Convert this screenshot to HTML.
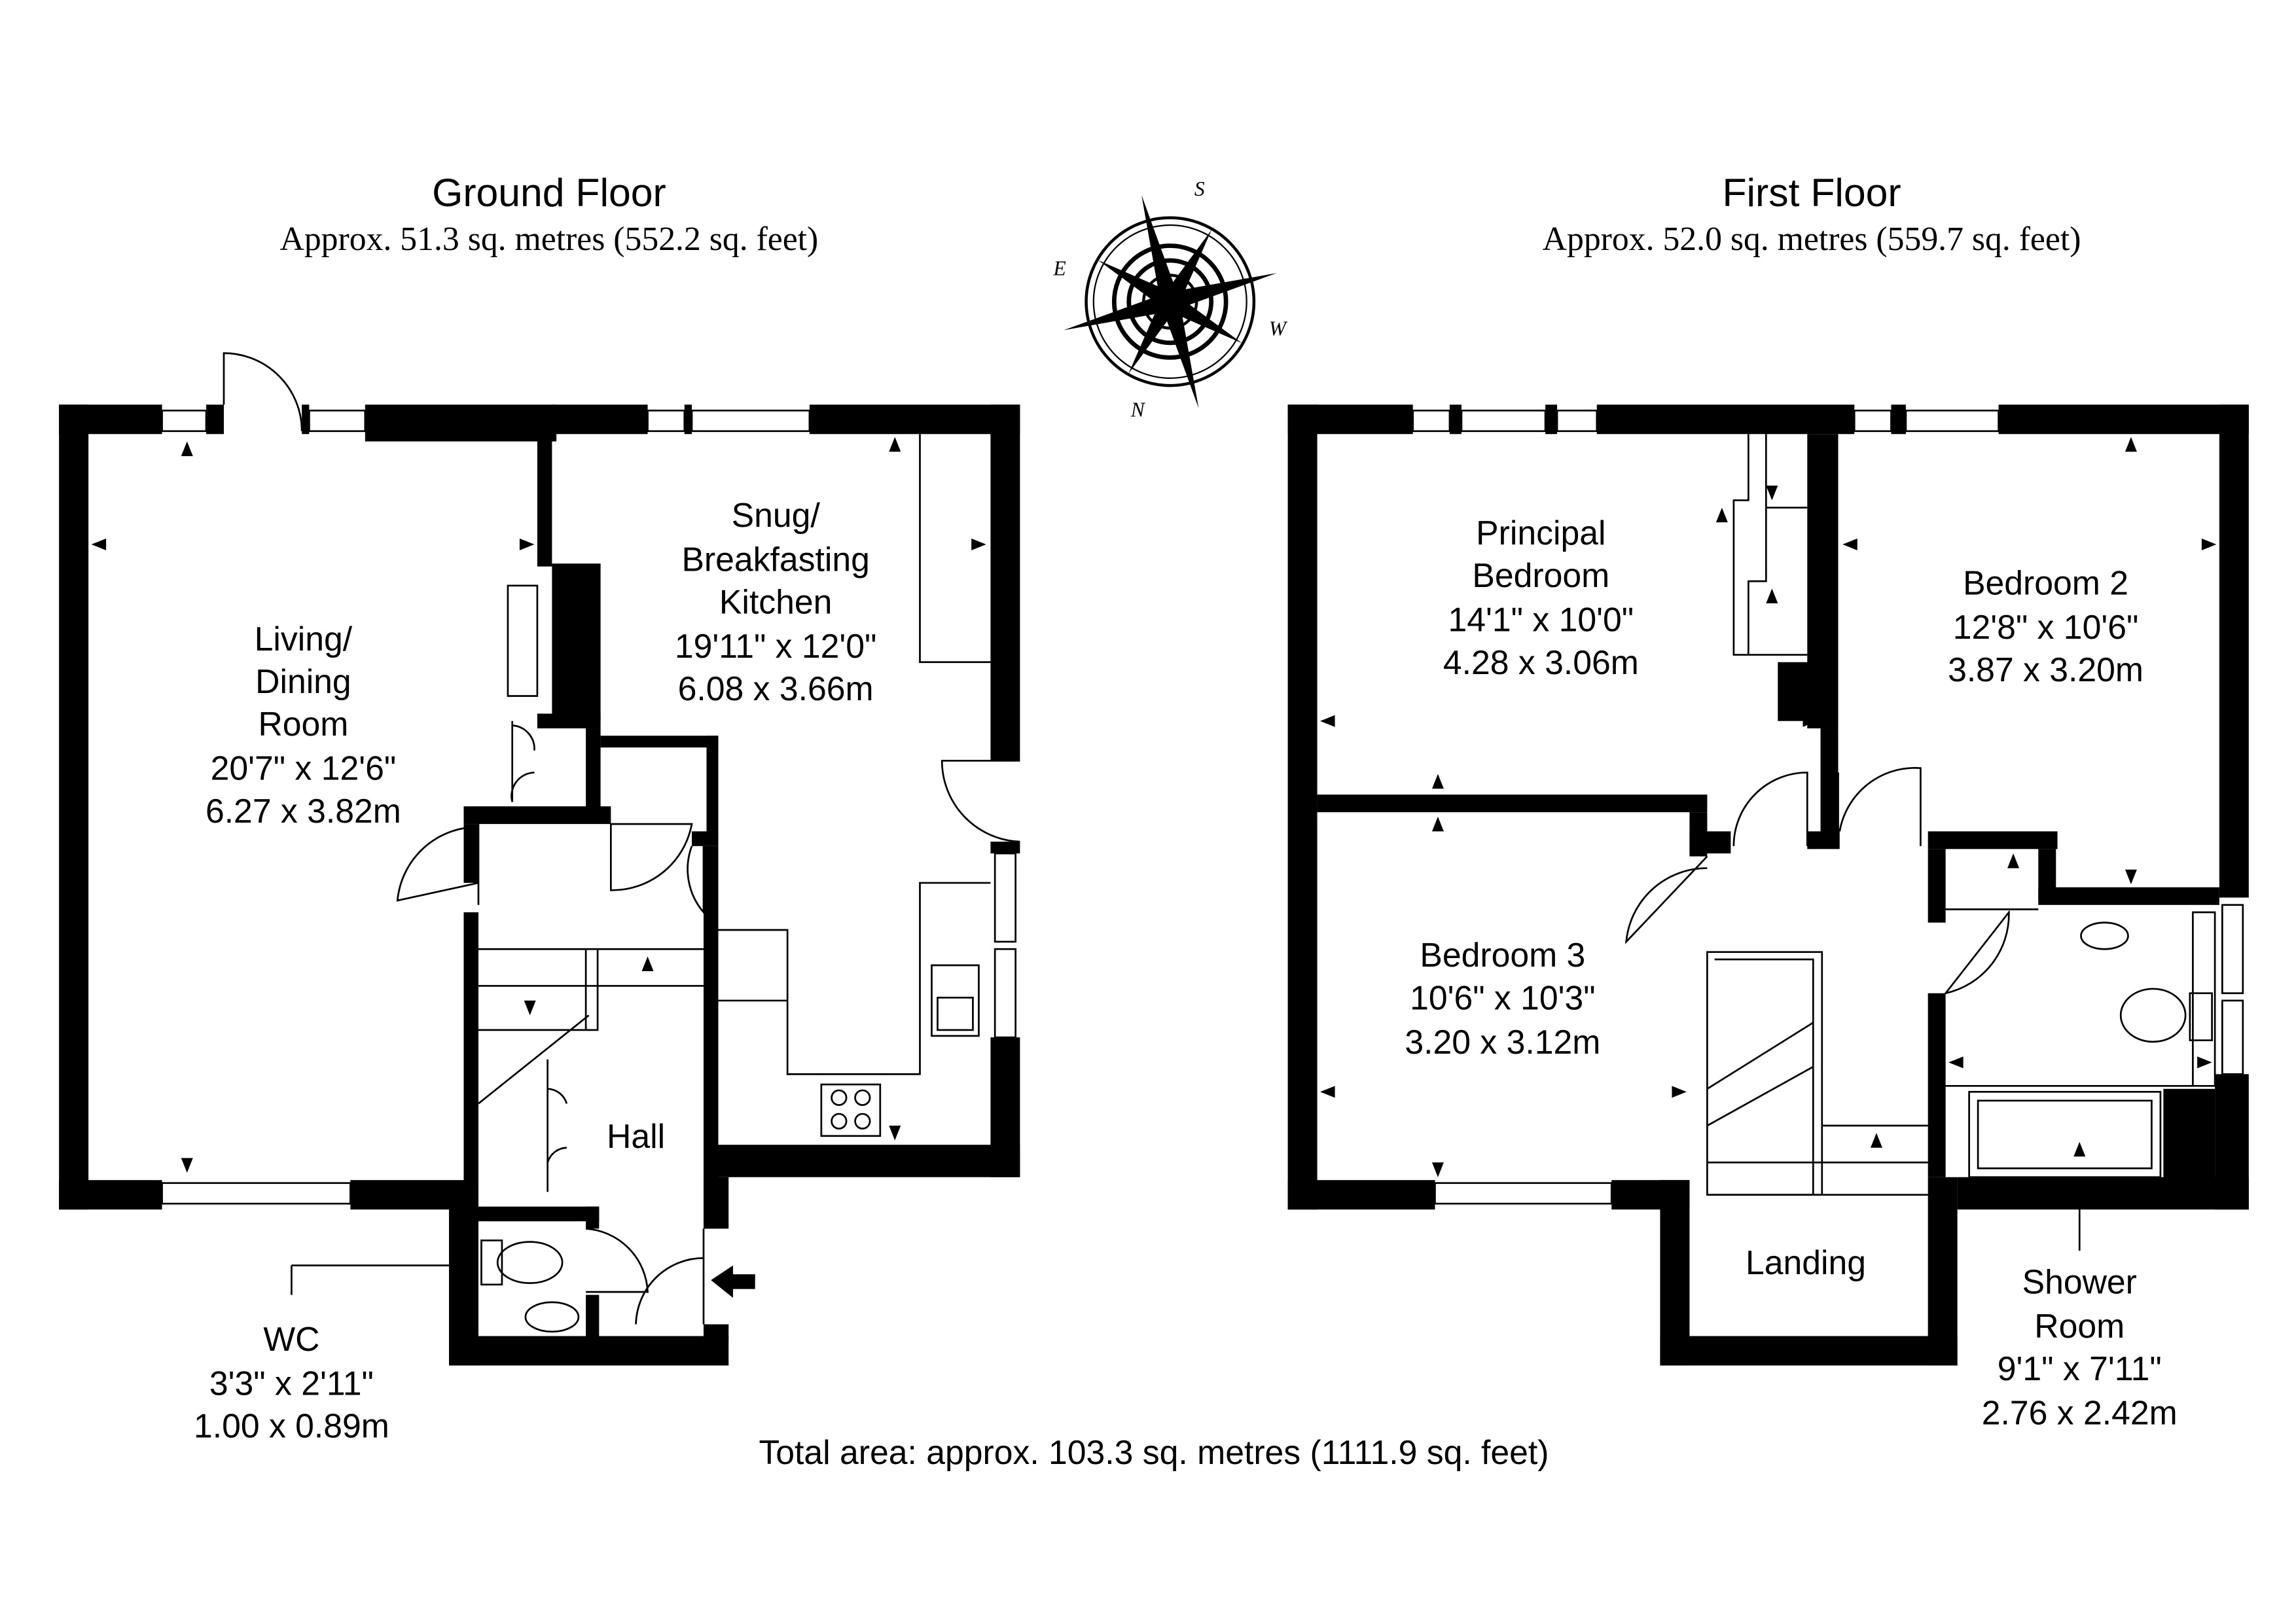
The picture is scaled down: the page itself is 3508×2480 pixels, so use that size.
<!DOCTYPE html>
<html><head><meta charset="utf-8"><style>
html,body{margin:0;padding:0;background:#fff;}
svg{display:block}
.t{font-family:"Liberation Sans",sans-serif;fill:#000;text-anchor:middle}
.s{font-family:"Liberation Serif",serif;fill:#000;text-anchor:middle}
</style></head><body>
<svg width="3508" height="2480" viewBox="0 0 1560 1103" xmlns="http://www.w3.org/2000/svg">
<rect width="1560" height="1103" fill="#fff"/>
<!-- titles -->
<text class="t" x="373" y="140" font-size="27">Ground Floor</text>
<text class="s" x="373" y="170" font-size="23">Approx. 51.3 sq. metres (552.2 sq. feet)</text>
<text class="t" x="1231" y="140" font-size="27">First Floor</text>
<text class="s" x="1231" y="170" font-size="23">Approx. 52.0 sq. metres (559.7 sq. feet)</text>
<text class="t" x="784" y="995" font-size="23">Total area: approx. 103.3 sq. metres (1111.9 sq. feet)</text>

<!-- compass -->
<g transform="translate(795,205)" fill="none" stroke="#000">
<circle r="57" stroke-width="2"/><circle r="52" stroke-width="1"/>
<circle r="38" stroke-width="3"/><circle r="28" stroke-width="3"/><circle r="18" stroke-width="2"/>
<g transform="rotate(-15)" fill="#000" stroke="none">
<polygon points="0,-75 6,-6 0,0 -6,-6"/><polygon points="0,75 6,6 0,0 -6,6"/>
<polygon points="-75,0 -6,-6 0,0 -6,6"/><polygon points="75,0 6,-6 0,0 6,6"/>
<polygon points="-40,-40 0,-8 0,0 -8,0"/><polygon points="40,40 0,8 0,0 8,0"/>
<polygon points="40,-40 8,0 0,0 0,-8"/><polygon points="-40,40 -8,0 0,0 0,8"/>
</g>
</g>
<text class="s" x="815" y="133" font-size="14" font-style="italic">S</text>
<text class="s" x="720" y="187" font-size="14" font-style="italic">E</text>
<text class="s" x="868" y="228" font-size="14" font-style="italic">W</text>
<text class="s" x="773" y="283" font-size="14" font-style="italic">N</text>

<g fill="#000">
<!-- GROUND FLOOR walls -->
<rect x="40" y="275" width="70" height="20"/>
<rect x="140" y="275" width="12" height="20"/>
<rect x="205" y="275" width="5" height="20"/>
<rect x="248" y="275" width="130" height="25"/>
<rect x="375" y="275" width="65" height="20"/>
<rect x="465" y="275" width="5" height="20"/>
<rect x="550" y="275" width="143" height="20"/>
<rect x="40" y="275" width="20" height="547"/>
<rect x="40" y="802" width="70" height="20"/>
<rect x="238" y="802" width="87" height="20"/>
<rect x="673" y="275" width="20" height="242"/>
<rect x="673" y="572" width="20" height="8"/>
<rect x="673" y="705" width="20" height="95"/>
<rect x="487" y="778" width="206" height="22"/>
<rect x="365" y="295" width="10" height="90"/>
<rect x="375" y="383" width="33" height="107"/>
<rect x="365" y="485" width="43" height="10"/>
<rect x="398" y="495" width="10" height="55"/>
<rect x="408" y="500" width="80" height="8"/>
<rect x="480" y="500" width="8" height="70"/>
<rect x="315" y="548" width="100" height="12"/>
<rect x="470" y="565" width="18" height="10"/>
<rect x="315" y="560" width="10" height="40"/>
<rect x="315" y="620" width="10" height="305"/>
<rect x="478" y="575" width="10" height="260"/>
<rect x="478" y="800" width="17" height="35"/>
<rect x="305" y="820" width="20" height="108"/>
<rect x="305" y="908" width="190" height="20"/>
<rect x="325" y="820" width="82" height="10"/>
<rect x="398" y="820" width="9" height="15"/>
<rect x="398" y="880" width="9" height="30"/>
<rect x="478" y="900" width="17" height="10"/>
<polygon points="483,870 498,860 498,866 513,866 513,876 498,876 498,882"/>
<!-- FIRST FLOOR walls -->
<rect x="875" y="275" width="85" height="20"/>
<rect x="985" y="275" width="8" height="20"/>
<rect x="1050" y="275" width="8" height="20"/>
<rect x="1085" y="275" width="175" height="20"/>
<rect x="1285" y="275" width="10" height="20"/>
<rect x="1358" y="275" width="170" height="20"/>
<rect x="875" y="275" width="20" height="547"/>
<rect x="1508" y="275" width="20" height="335"/>
<rect x="1505" y="730" width="23" height="92"/>
<rect x="875" y="802" width="100" height="20"/>
<rect x="1095" y="802" width="53" height="20"/>
<rect x="1128" y="802" width="20" height="126"/>
<rect x="1128" y="908" width="202" height="20"/>
<rect x="1310" y="800" width="20" height="128"/>
<rect x="1330" y="800" width="198" height="22"/>
<rect x="1470" y="740" width="35" height="62"/>
<rect x="895" y="540" width="265" height="12"/>
<rect x="1148" y="552" width="12" height="30"/>
<rect x="1148" y="565" width="28" height="15"/>
<rect x="1228" y="295" width="21" height="200"/>
<rect x="1208" y="450" width="28" height="40"/>
<rect x="1237" y="495" width="12" height="80"/>
<rect x="1228" y="565" width="22" height="12"/>
<rect x="1310" y="565" width="88" height="12"/>
<rect x="1385" y="577" width="12" height="35"/>
<rect x="1385" y="603" width="123" height="12"/>
<rect x="1310" y="577" width="12" height="50"/>
<rect x="1310" y="675" width="12" height="125"/>
</g>
<g fill="none" stroke="#000" stroke-width="1.2">
<!-- windows ground -->
<rect x="110" y="279" width="30" height="14"/><rect x="210" y="279" width="38" height="14"/>
<rect x="440" y="279" width="25" height="14"/><rect x="470" y="279" width="80" height="14"/>
<rect x="110" y="804" width="128" height="14"/>
<rect x="676" y="580" width="14" height="60"/><rect x="676" y="645" width="14" height="60"/>
<path d="M152,275 L152,240 A53,53 0 0 1 205,293"/>
<path d="M693,517 L640,517 A55,55 0 0 0 693,572"/>
<path d="M325,560 L325,615 M325,600 L270,612 A55,55 0 0 1 325,562"/>
<path d="M415,560 L470,560 A55,55 0 0 1 415,605 Z" fill="none"/>
<path d="M478,575 L478,620 A45,45 0 0 1 470,575"/>
<path d="M398,835 A45,45 0 0 1 440,878 L398,878"/>
<path d="M478,835 L478,900 M432,900 A46,46 0 0 1 478,855"/>
<!-- fireplace, cupboards -->
<rect x="345" y="398" width="20" height="75"/>
<path d="M348,490 L348,545 M348,493 A16,16 0 0 1 363,510 M348,545 A16,16 0 0 1 363,525"/>
<!-- stairs ground -->
<path d="M325,645 L478,645 M325,670 L478,670 M398,645 L398,700 L406,700 L406,645 M325,700 L398,700 M325,750 L400,690"/>
<path d="M372,720 L372,810 M372,740 A14,14 0 0 1 385,750 M372,790 A14,14 0 0 1 385,780"/>
<!-- kitchen units -->
<path d="M625,295 L625,450 L673,450"/>
<path d="M487,632 L535,632 L535,730 L625,730 L625,600 L673,600"/>
<path d="M487,680 L535,680"/>
<rect x="633" y="656" width="32" height="48"/><rect x="637" y="678" width="24" height="22"/>
<rect x="558" y="737" width="40" height="35"/>
<circle cx="570" cy="746" r="5"/><circle cx="586" cy="746" r="5"/><circle cx="570" cy="762" r="5"/><circle cx="586" cy="762" r="5"/>
<!-- WC -->
<ellipse cx="360" cy="858" rx="22" ry="14"/><rect x="327" y="843" width="14" height="30"/>
<ellipse cx="375" cy="895" rx="18" ry="10"/>
<line x1="305" y1="860" x2="198" y2="860"/><line x1="198" y1="860" x2="198" y2="880"/>
<!-- windows first -->
<rect x="960" y="279" width="25" height="14"/><rect x="993" y="279" width="57" height="14"/><rect x="1058" y="279" width="27" height="14"/>
<rect x="1260" y="279" width="25" height="14"/><rect x="1295" y="279" width="63" height="14"/>
<rect x="975" y="804" width="120" height="14"/>
<rect x="1312" y="830" width="14" height="75"/>
<rect x="1510" y="615" width="14" height="60"/><rect x="1510" y="680" width="14" height="50"/>
<!-- wardrobe -->
<path d="M1188,295 L1188,340 L1178,340 L1178,445 L1188,445 L1188,395 L1200,395 L1200,295 M1188,445 L1228,445 M1200,345 L1228,345"/>
<!-- doors first -->
<path d="M1228,575 L1228,525 A50,50 0 0 0 1178,575"/>
<path d="M1249,575 L1249,525 M1250,565 A52,52 0 0 1 1305,522 L1305,575"/>
<path d="M1160,582 L1105,640 A55,55 0 0 1 1160,590"/>
<path d="M1322,675 L1365,620 A55,55 0 0 1 1322,675 Z"/>
<!-- stairs first -->
<rect x="1160" y="647" width="78" height="165"/>
<path d="M1165,652 L1232,652 L1232,812 M1160,740 L1232,695 M1160,765 L1232,725 M1238,765 L1310,765 M1160,790 L1310,790 M1160,812 L1310,812"/>
<!-- shower room -->
<path d="M1322,618 L1385,618 M1322,738 L1505,738 L1505,620 L1490,620 L1490,738"/>
<ellipse cx="1430" cy="636" rx="16" ry="9"/><ellipse cx="1463" cy="690" rx="22" ry="18"/><rect x="1488" y="675" width="15" height="32"/>
<rect x="1338" y="742" width="130" height="58"/><rect x="1344" y="748" width="118" height="46"/>
<path d="M1413,800 L1413,850"/>
</g>
<!-- dimension arrows (small) -->
<g fill="#000">
<polygon points="127,300 123,310 131,310"/><polygon points="127,797 123,787 131,787"/>
<polygon points="62,370 72,366 72,374"/><polygon points="363,370 353,366 353,374"/>
<polygon points="608,297 604,307 612,307"/><polygon points="608,775 604,765 612,765"/>
<polygon points="670,370 660,366 660,374"/><polygon points="440,650 436,660 444,660"/>
<polygon points="360,690 356,680 364,680"/>
<polygon points="897,490 907,486 907,494"/><polygon points="1235,490 1225,486 1225,494"/>
<polygon points="977,526 973,536 981,536"/><polygon points="977,555 973,565 981,565"/>
<polygon points="977,800 973,790 981,790"/>
<polygon points="897,742 907,738 907,746"/><polygon points="1146,742 1136,738 1136,746"/>
<polygon points="1252,370 1262,366 1262,374"/><polygon points="1506,370 1496,366 1496,374"/>
<polygon points="1448,297 1444,307 1452,307"/><polygon points="1448,601 1444,591 1452,591"/>
<polygon points="1368,580 1364,590 1372,590"/><polygon points="1324,722 1334,718 1334,726"/>
<polygon points="1503,722 1493,718 1493,726"/><polygon points="1413,776 1409,786 1417,786"/>
<polygon points="1275,770 1271,780 1279,780"/>
<polygon points="1170,345 1166,355 1174,355"/><polygon points="1204,340 1200,330 1208,330"/><polygon points="1204,400 1200,410 1208,410"/>
</g>
<!-- labels -->
<g class="t" font-size="23">
<text x="206" y="442">Living/</text><text x="206" y="471">Dining</text><text x="206" y="500">Room</text>
<text x="206" y="530">20'7" x 12'6"</text><text x="206" y="559">6.27 x 3.82m</text>
<text x="527" y="358">Snug/</text><text x="527" y="388">Breakfasting</text><text x="527" y="417">Kitchen</text>
<text x="527" y="447">19'11" x 12'0"</text><text x="527" y="476">6.08 x 3.66m</text>
<text x="432" y="780">Hall</text>
<text x="198" y="918">WC</text><text x="198" y="948">3'3" x 2'11"</text><text x="198" y="977">1.00 x 0.89m</text>
<text x="1047" y="370">Principal</text><text x="1047" y="399">Bedroom</text>
<text x="1047" y="429">14'1" x 10'0"</text><text x="1047" y="458">4.28 x 3.06m</text>
<text x="1390" y="404">Bedroom 2</text><text x="1390" y="434">12'8" x 10'6"</text><text x="1390" y="463">3.87 x 3.20m</text>
<text x="1021" y="657">Bedroom 3</text><text x="1021" y="686">10'6" x 10'3"</text><text x="1021" y="716">3.20 x 3.12m</text>
<text x="1227" y="866">Landing</text>
<text x="1413" y="879">Shower</text><text x="1413" y="909">Room</text>
<text x="1413" y="938">9'1" x 7'11"</text><text x="1413" y="968">2.76 x 2.42m</text>
</g>
</svg>
</body></html>
